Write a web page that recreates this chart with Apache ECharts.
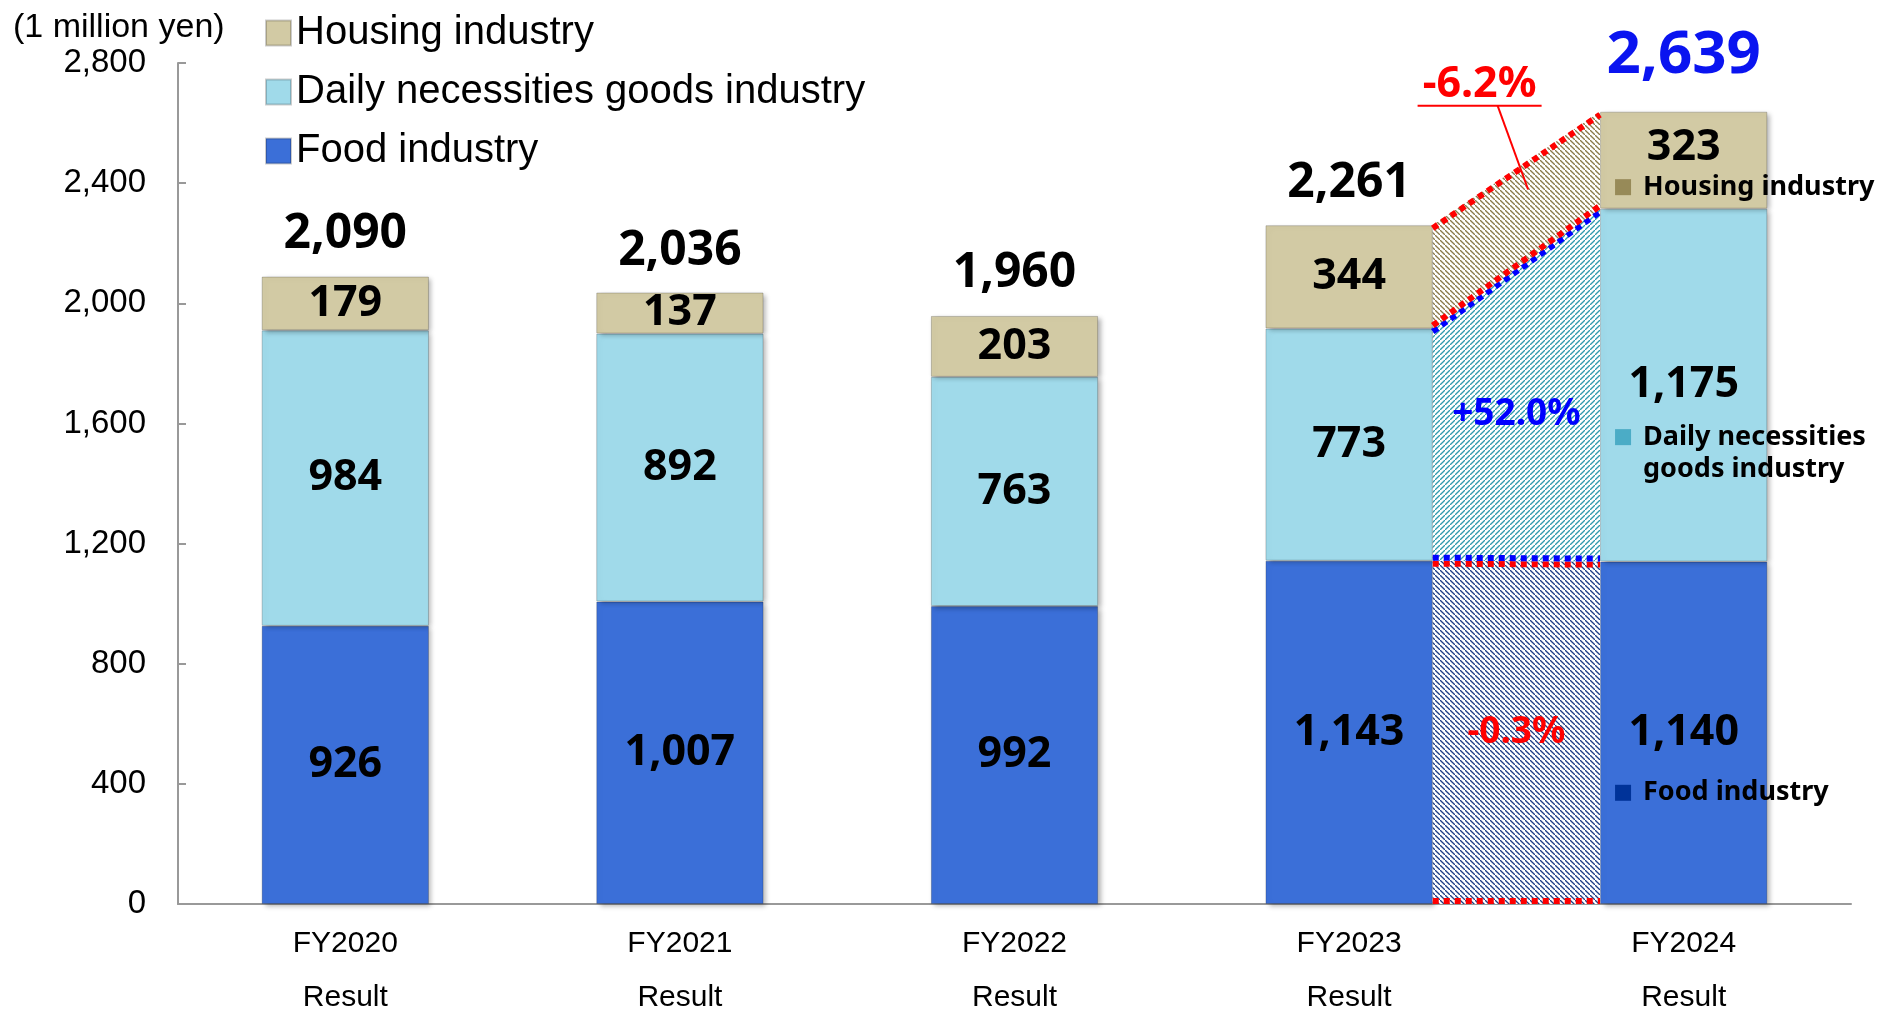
<!DOCTYPE html>
<html>
<head>
<meta charset="utf-8">
<title>Sales by segment</title>
<script src="https://cdn.jsdelivr.net/npm/echarts@6.0.0/dist/echarts.min.js"></script>
<style>
html, body { margin: 0; padding: 0; background: #fff; }
#main { width: 1895px; height: 1011px; }
</style>
</head>
<body>
<div id="main"></div>
<script>
// values (1 million yen)
var years = ['FY2020', 'FY2021', 'FY2022', 'FY2023', 'FY2024'];
var yearNote = 'Result';
var food = [926, 1007, 992, 1143, 1140];
var daily = [984, 892, 763, 773, 1175];
var housing = [179, 137, 203, 344, 323];
var totals = [2090, 2036, 1960, 2261, 2639];
var seriesNames = ['Food industry', 'Daily necessities goods industry', 'Housing industry'];
var noteTexts = ['Food industry', 'Daily necessities\ngoods industry', 'Housing industry'];
var changeLabels = ['-0.3%', '+52.0%', '-6.2%'];
var unitLabel = '(1 million yen)';

var fromIdx = 3, toIdx = 4;
var layers = [food, daily, housing];
var colors = ['#3B6FD8', '#A0DAEA', '#D2CAA4'];
var noteColors = ['#003399', '#4BACC6', '#978A58'];

function fmt(v) {
  return Number(v).toLocaleString('en-US');
}

// small diagonal hatch used for the bridge between FY2023 and FY2024
function hatch(color, dir) {
  var c = document.createElement('canvas');
  c.width = 5; c.height = 5;
  var g = c.getContext('2d');
  g.fillStyle = '#fff';
  g.fillRect(0, 0, 5, 5);
  g.strokeStyle = color;
  g.lineWidth = 1.3;
  g.beginPath();
  if (dir > 0) {
    g.moveTo(-1, 6); g.lineTo(6, -1);
  } else {
    g.moveTo(-1, -1); g.lineTo(6, 6);
  }
  g.stroke();
  return {image: c, repeat: 'repeat'};
}
var patterns = [hatch('#1F3F86', -1), hatch('#2E9AAE', 1), hatch('#8A7A4A', -1)];

function bridgeItem(params, api) {
  var k = api.value(1);
  var lo3 = 0, lo4 = 0;
  for (var i = 0; i < k; i++) {
    lo3 += layers[i][fromIdx];
    lo4 += layers[i][toIdx];
  }
  var hi3 = lo3 + layers[k][fromIdx];
  var hi4 = lo4 + layers[k][toIdx];
  var half = api.size([1, 0])[0] * 0.25;
  var x0 = api.coord([fromIdx, 0])[0] + half;
  var x1 = api.coord([toIdx, 0])[0] - half;
  var yA = api.coord([fromIdx, lo3])[1];
  var yB = api.coord([fromIdx, hi3])[1];
  var yC = api.coord([toIdx, hi4])[1];
  var yD = api.coord([toIdx, lo4])[1];
  var dot = layers[k][toIdx] > layers[k][fromIdx] ? '#0000FF' : '#FF0000';
  var dash = {stroke: dot, lineWidth: 6, lineDash: [6, 5]};
  var children = [
    {type: 'polygon', shape: {points: [[x0, yA], [x0, yB], [x1, yC], [x1, yD]]}, style: {fill: patterns[k]}},
    {type: 'line', shape: {x1: x0, y1: yB + 3, x2: x1, y2: yC + 3}, style: dash},
    {type: 'line', shape: {x1: x0, y1: yA - 3, x2: x1, y2: yD - 3}, style: dash}
  ];
  var w = x1 - x0;
  var font = 'bold 37px "Noto Sans"';
  if (k === 2) {
    // label sits above the region, underlined, with a leader line into it
    var cx = x0 + w * 0.28;
    var ty = yC - 27;
    var ex = x0 + w * 0.57;
    var ey = yB + (yC - yB) * 0.57 + 29;
    children.push({type: 'text', style: {text: changeLabels[k], x: cx, y: ty, fill: dot, font: 'bold 43px "Noto Sans"', align: 'center', verticalAlign: 'middle'}});
    children.push({type: 'line', shape: {x1: cx - 62, y1: ty + 21, x2: cx + 62, y2: ty + 21}, style: {stroke: dot, lineWidth: 2}});
    children.push({type: 'line', shape: {x1: cx + 18, y1: ty + 21, x2: ex, y2: ey}, style: {stroke: dot, lineWidth: 2}});
  } else {
    children.push({type: 'text', style: {text: changeLabels[k], x: x0 + w / 2, y: (yA + yB + yC + yD) / 4, fill: dot, font: font, align: 'center', verticalAlign: 'middle'}});
  }
  return {type: 'group', children: children};
}

function barSeries(k) {
  return {
    name: seriesNames[k],
    type: 'bar',
    stack: 'sales',
    barWidth: '50%',
    data: layers[k].map(function (v, i) {
      if (k === 2 && i === toIdx) return {value: v, label: {offset: [0, -12]}};
      return v;
    }),
    itemStyle: {
      color: colors[k],
      borderColor: 'rgba(0,0,0,0.2)',
      borderWidth: 1,
      shadowColor: 'rgba(0,0,0,0.3)',
      shadowBlur: 5,
      shadowOffsetX: 3,
      shadowOffsetY: 2
    },
    label: {
      show: true,
      position: 'inside',
      formatter: function (p) { return fmt(p.value); },
      color: '#000',
      fontFamily: 'Noto Sans',
      fontWeight: 'bold',
      fontSize: 43
    }
  };
}

var chart = echarts.init(document.getElementById('main'));

var options = {
  animation: false,
  title: {
    text: unitLabel,
    left: 8,
    top: 6,
    textStyle: {fontSize: 34, fontWeight: 'normal', fontFamily: 'Liberation Sans', color: '#000'}
  },
  legend: {
    orient: 'vertical',
    left: 260,
    top: 8,
    itemWidth: 25,
    itemHeight: 25,
    itemGap: 19,
    icon: 'rect',
    data: seriesNames.slice().reverse(),
    textStyle: {fontSize: 40, fontFamily: 'Liberation Sans', color: '#000'}
  },
  grid: {left: 178, right: 44, top: 63, bottom: 107, outerBoundsMode: 'none'},
  xAxis: {
    type: 'category',
    data: years,
    axisLine: {lineStyle: {color: '#999', width: 2}},
    axisTick: {inside: true, length: 8, lineStyle: {color: '#999', width: 2}},
    axisLabel: {
      margin: 13,
      fontSize: 30,
      lineHeight: 54,
      fontFamily: 'Liberation Sans',
      color: '#000',
      formatter: function (v) { return v + '\n' + yearNote; }
    }
  },
  yAxis: {
    type: 'value',
    min: 0,
    max: 2800,
    interval: 400,
    splitLine: {show: false},
    axisLine: {show: true, lineStyle: {color: '#999', width: 2}},
    axisTick: {show: true, inside: true, length: 8, lineStyle: {color: '#999', width: 2}},
    axisLabel: {
      margin: 32,
      fontSize: 33,
      fontFamily: 'Liberation Sans',
      color: '#000',
      formatter: fmt
    }
  },
  series: [
    barSeries(0),
    barSeries(1),
    barSeries(2),
    {
      name: 'Total',
      type: 'scatter',
      symbolSize: 1,
      itemStyle: {color: 'rgba(0,0,0,0)', opacity: 1},
      data: totals.map(function (v, i) {
        if (i === toIdx) {
          return {value: v, label: {fontSize: 60, color: '#0A14F0', distance: 25}};
        }
        return v;
      }),
      label: {
        show: true,
        position: 'top',
        distance: 17,
        formatter: function (p) { return fmt(p.value); },
        color: '#000',
        fontFamily: 'Noto Sans',
        fontWeight: 'bold',
        fontSize: 48
      },
      z: 5
    },
    {
      name: 'Change',
      type: 'custom',
      renderItem: bridgeItem,
      encode: {x: 0, y: 1},
      data: [[fromIdx, 0], [fromIdx, 1], [fromIdx, 2]],
      z: 4
    }
  ]
};

chart.setOption(options);

// segment notes beside the FY2024 bar
var band = chart.convertToPixel({gridIndex: 0}, [toIdx, 0])[0] - chart.convertToPixel({gridIndex: 0}, [fromIdx, 0])[0];
var noteDy = [60, 52, 27];
var notes = [];
var base = 0;
for (var k = 0; k < 3; k++) {
  var v = layers[k][toIdx];
  var c = chart.convertToPixel({gridIndex: 0}, [toIdx, base + v / 2]);
  base += v;
  var left = c[0] - band * 0.25 + 15;
  var y = c[1] + noteDy[k];
  notes.push({type: 'rect', shape: {x: left, y: y - 8, width: 16, height: 16}, style: {fill: noteColors[k]}, z: 10});
  notes.push({
    type: 'text', z: 10,
    style: {x: left + 28, y: y - 16, text: noteTexts[k], font: 'bold 27px "Noto Sans"', lineHeight: 32, fill: '#000', verticalAlign: 'top'}
  });
}
chart.setOption({graphic: notes});
</script>
</body>
</html>
